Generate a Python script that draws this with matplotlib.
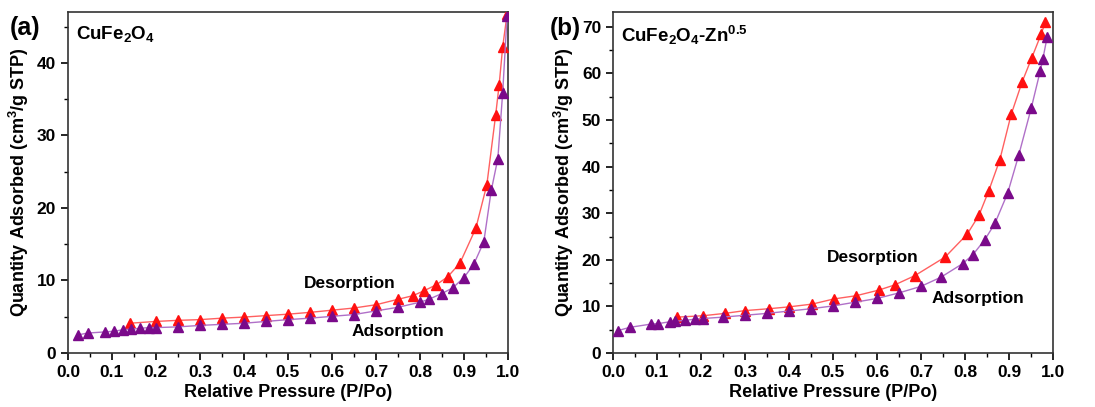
import numpy as np
import matplotlib
matplotlib.use('Agg')
import matplotlib.pyplot as plt
from matplotlib.ticker import MultipleLocator, FormatStrFormatter

plt.rcParams['font.family'] = ['Liberation Sans', 'DejaVu Sans']
plt.rcParams['font.weight'] = 'bold'
plt.rcParams['mathtext.fontset'] = 'custom'
plt.rcParams['mathtext.rm'] = 'Liberation Sans:bold'
plt.rcParams['mathtext.bf'] = 'Liberation Sans:bold'
plt.rcParams['mathtext.it'] = 'Liberation Sans:bold'

# (a) CuFe2O4
a_ads_x = [0.023, 0.045, 0.083, 0.104, 0.125, 0.144, 0.163, 0.184, 0.20, 0.25, 0.30, 0.35,
           0.40, 0.45, 0.50, 0.55, 0.60, 0.65, 0.70, 0.75, 0.80, 0.82, 0.85, 0.875, 0.90,
           0.922, 0.945, 0.962, 0.977, 0.988, 0.998]
a_ads_y = [2.5, 2.75, 2.9, 3.0, 3.2, 3.3, 3.4, 3.5, 3.5, 3.6, 3.8, 3.95,
           4.1, 4.35, 4.6, 4.8, 5.05, 5.3, 5.8, 6.3, 7.0, 7.4, 8.2, 9.0, 10.4,
           12.2, 15.3, 22.4, 26.8, 35.9, 46.5]
a_des_x = [0.14, 0.20, 0.25, 0.30, 0.35, 0.40, 0.45, 0.50, 0.55, 0.60, 0.65, 0.70, 0.75,
           0.784, 0.81, 0.837, 0.863, 0.891, 0.927, 0.952, 0.972, 0.980, 0.988, 0.998]
a_des_y = [4.1, 4.35, 4.5, 4.6, 4.8, 4.95, 5.15, 5.35, 5.6, 5.9, 6.2, 6.65, 7.4,
           7.9, 8.6, 9.4, 10.5, 12.4, 17.2, 23.2, 32.8, 37.0, 42.2, 46.7]

# (b) CuFe2O4-Zn0.5
b_ads_x = [0.011, 0.038, 0.086, 0.102, 0.129, 0.14, 0.163, 0.186, 0.205, 0.25, 0.30, 0.35,
           0.40, 0.45, 0.50, 0.55, 0.60, 0.65, 0.70, 0.746, 0.795, 0.818, 0.845, 0.868,
           0.897, 0.922, 0.951, 0.971, 0.977, 0.987]
b_ads_y = [4.8, 5.5, 6.2, 6.3, 6.7, 6.8, 7.0, 7.25, 7.4, 7.7, 8.1, 8.5,
           9.0, 9.5, 10.1, 10.9, 11.7, 12.9, 14.3, 16.3, 19.2, 21.1, 24.3, 27.8,
           34.3, 42.4, 52.7, 60.5, 63.1, 67.9]
b_des_x = [0.146, 0.205, 0.254, 0.30, 0.354, 0.40, 0.453, 0.502, 0.553, 0.604, 0.64, 0.686,
           0.755, 0.805, 0.832, 0.854, 0.879, 0.905, 0.93, 0.952, 0.973, 0.983]
b_des_y = [7.7, 8.0, 8.5, 9.1, 9.5, 9.9, 10.5, 11.6, 12.3, 13.5, 14.6, 16.6,
           20.6, 25.5, 29.6, 34.8, 41.4, 51.2, 58.2, 63.4, 68.4, 71.1]

red = '#ff1010'
purple = '#7a0a8a'

fig = plt.figure(figsize=(10.95, 4.07), dpi=100)
ax1 = fig.add_axes([0.0621, 0.1327, 0.4018, 0.8378])
ax2 = fig.add_axes([0.5598, 0.1327, 0.4018, 0.8378])

panels = [
    (ax1, a_ads_x, a_ads_y, a_des_x, a_des_y, 47, r'$\mathbf{CuFe_2O_4}$',
     (0.64, 9.6), (0.75, 2.9)),
    (ax2, b_ads_x, b_ads_y, b_des_x, b_des_y, 73.2, r'$\mathbf{CuFe_2O_4}$-Zn$^{\mathbf{0.5}}$',
     (0.59, 20.6), (0.83, 11.6)),
]

for ax, ax_x, ax_y, dx, dy, ymax, name, dpos, apos in panels:
    ax.plot(dx, dy, color='#ff6060', lw=1.0, marker='^', ms=6.8,
            mfc=red, mec=red, zorder=3)
    ax.plot(ax_x, ax_y, color='#b070c8', lw=1.0, marker='^', ms=6.8,
            mfc=purple, mec=purple, zorder=4)
    ax.set_xlim(0, 1.0)
    ax.set_ylim(0, ymax)
    ax.xaxis.set_major_locator(MultipleLocator(0.1))
    ax.xaxis.set_minor_locator(MultipleLocator(0.05))
    ax.yaxis.set_major_locator(MultipleLocator(10))
    ax.yaxis.set_minor_locator(MultipleLocator(5))
    ax.tick_params(which='major', direction='out', length=5, width=1.2, labelsize=12.5)
    ax.tick_params(which='minor', direction='out', length=3, width=1.0)
    ax.xaxis.set_major_formatter(FormatStrFormatter('%.1f'))
    for lbl in ax.get_xticklabels() + ax.get_yticklabels():
        lbl.set_fontweight('bold')
    for s in ax.spines.values():
        s.set_linewidth(1.2)
        s.set_color('#333333')
    ax.set_xlabel('Relative Pressure (P/Po)', fontsize=13, fontweight='bold', labelpad=3)
    ax.set_ylabel(r'Quantity Adsorbed (cm$^{\mathbf{3}}$/g STP)', fontsize=13,
                  fontweight='bold', labelpad=4)
    ax.text(0.018, 0.965, name, transform=ax.transAxes, ha='left', va='top',
            fontsize=13.5, fontweight='bold')
    ax.text(dpos[0], dpos[1], 'Desorption', ha='center', va='center', fontsize=12.5,
            fontweight='bold')
    ax.text(apos[0], apos[1], 'Adsorption', ha='center', va='center', fontsize=12.5,
            fontweight='bold')

fig.text(0.009, 0.93, '(a)', fontsize=18, fontweight='bold', ha='left', va='center')
fig.text(0.502, 0.93, '(b)', fontsize=17.5, fontweight='bold', ha='left', va='center')

fig.savefig('out.png', dpi=100)
